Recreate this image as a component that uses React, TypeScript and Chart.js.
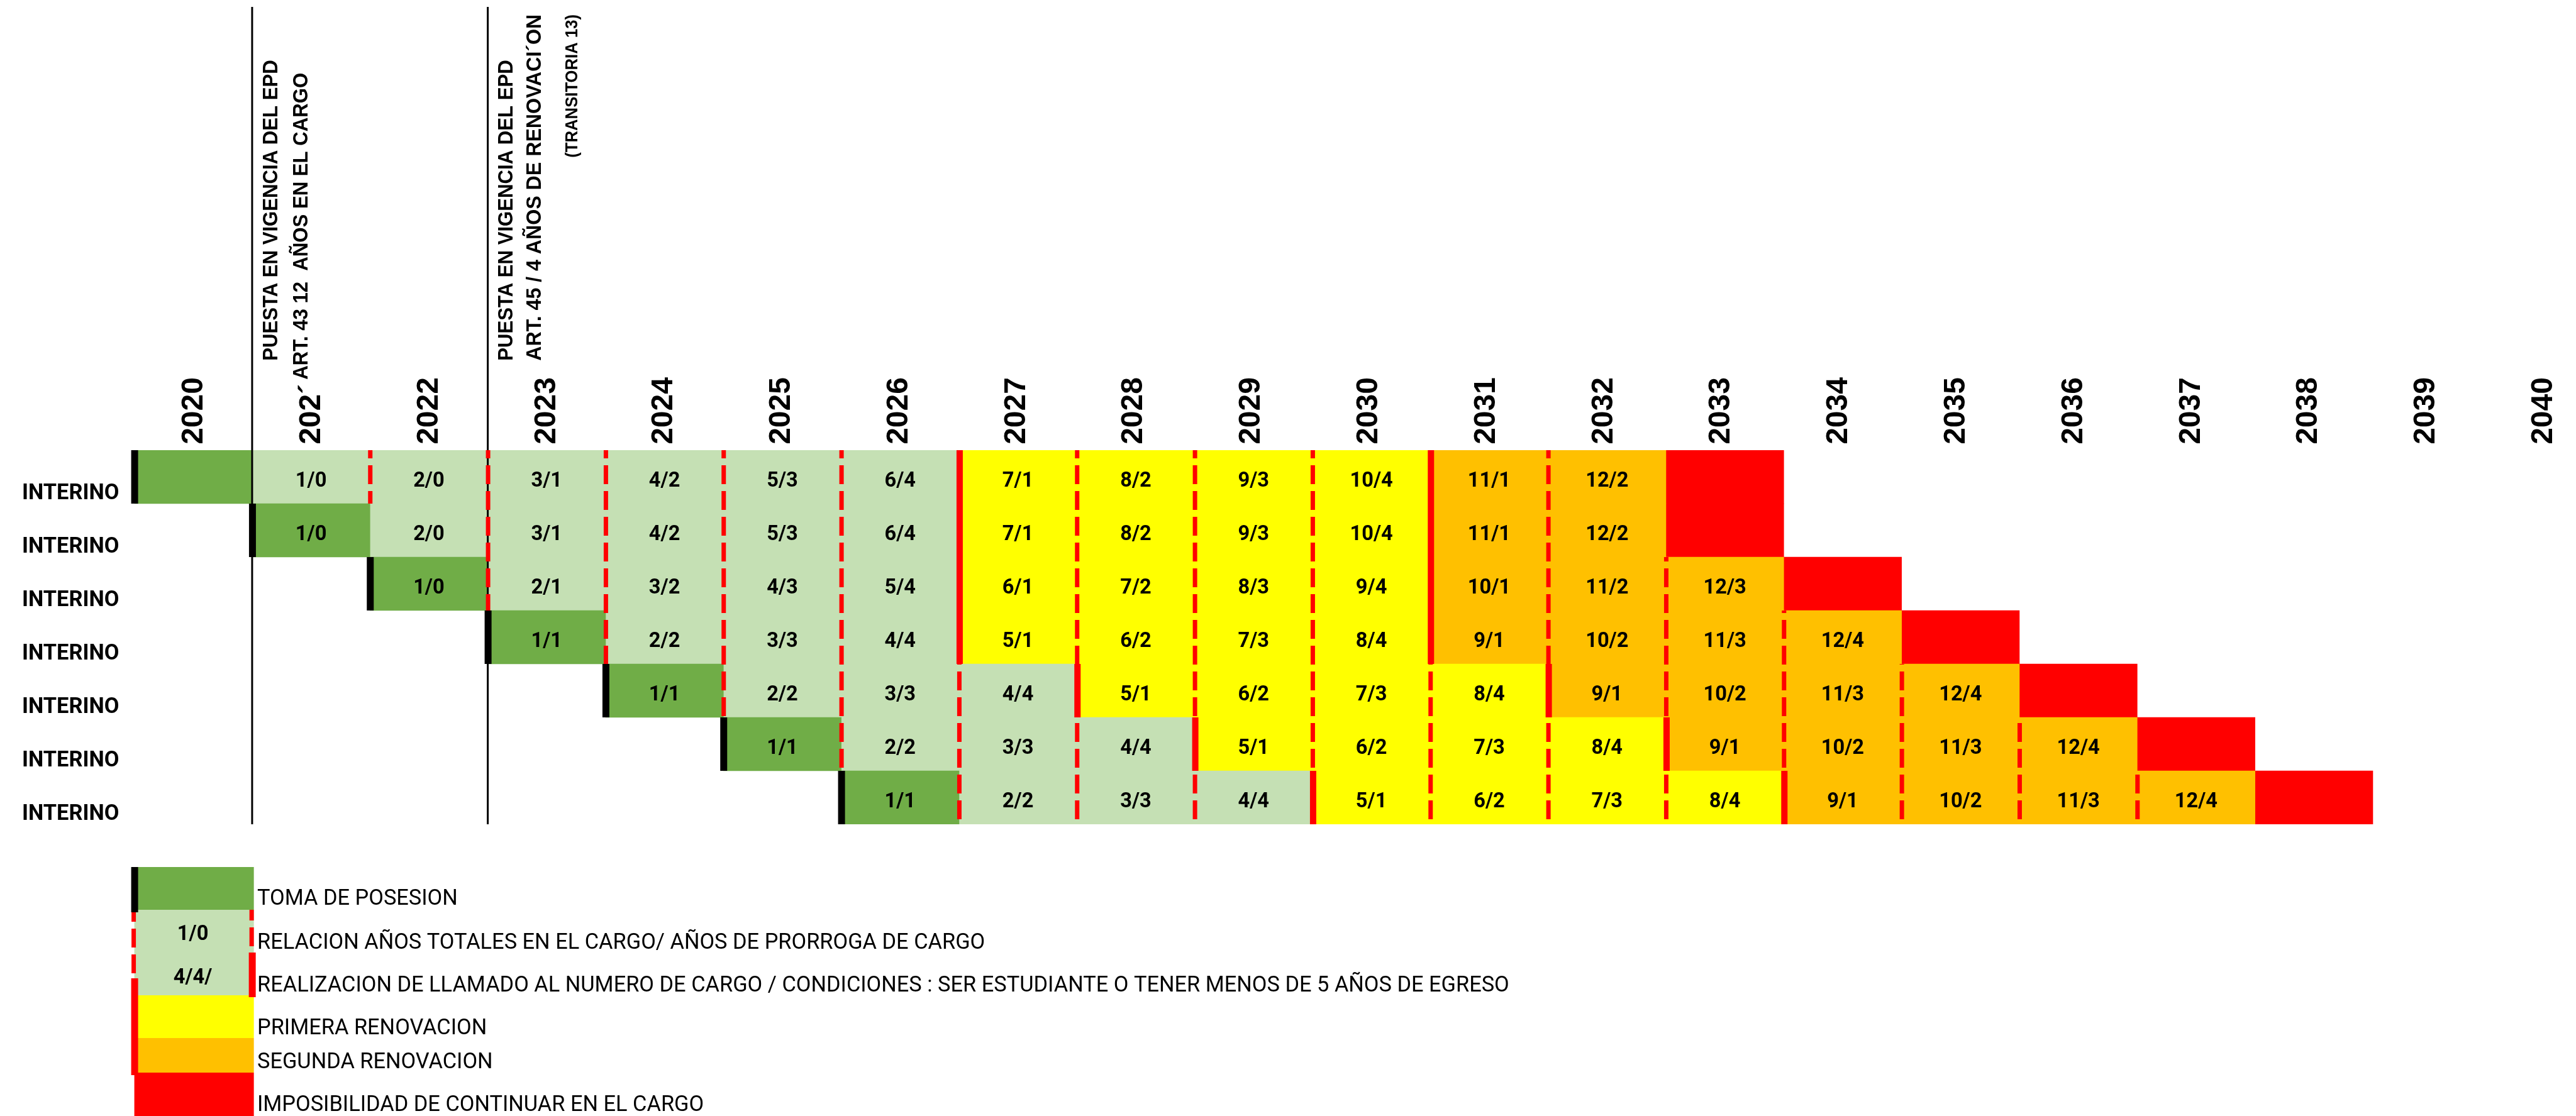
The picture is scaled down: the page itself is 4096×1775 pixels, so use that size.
import React, { useEffect, useRef } from "react";
import { Chart, registerables } from "chart.js";

Chart.register(...registerables);

// ---------------- DATA ----------------
const YEARS = [2020, 2021, 2022, 2023, 2024, 2025, 2026, 2027, 2028, 2029, 2030, 2031, 2032, 2033, 2034, 2035, 2036, 2037, 2038, 2039, 2040];
const YEAR_LABELS = ["2020", "202´", "2022", "2023", "2024", "2025", "2026", "2027", "2028", "2029", "2030", "2031", "2032", "2033", "2034", "2035", "2036", "2037", "2038", "2039", "2040"];

const ROW_LABELS = ["INTERINO", "INTERINO", "INTERINO", "INTERINO", "INTERINO", "INTERINO", "INTERINO"];
const ROW_START = [2020, 2021, 2022, 2023, 2024, 2025, 2026];
// D = toma de posesion, L = prorroga, Y = primera renovacion, O = segunda renovacion, R = imposibilidad
const ROW_KINDS = [
  "DLLLLLLYYYYOOR",
  "DLLLLLYYYYOOR",
  "DLLLLYYYYOOOR",
  "DLLLYYYYOOOOR",
  "DLLLYYYYOOOOR",
  "DLLLYYYYOOOOR",
  "DLLLYYYYOOOOR",
];
const ROW_TEXTS = [
  ["", "1/0", "2/0", "3/1", "4/2", "5/3", "6/4", "7/1", "8/2", "9/3", "10/4", "11/1", "12/2", ""],
  ["1/0", "2/0", "3/1", "4/2", "5/3", "6/4", "7/1", "8/2", "9/3", "10/4", "11/1", "12/2", ""],
  ["1/0", "2/1", "3/2", "4/3", "5/4", "6/1", "7/2", "8/3", "9/4", "10/1", "11/2", "12/3", ""],
  ["1/1", "2/2", "3/3", "4/4", "5/1", "6/2", "7/3", "8/4", "9/1", "10/2", "11/3", "12/4", ""],
  ["1/1", "2/2", "3/3", "4/4", "5/1", "6/2", "7/3", "8/4", "9/1", "10/2", "11/3", "12/4", ""],
  ["1/1", "2/2", "3/3", "4/4", "5/1", "6/2", "7/3", "8/4", "9/1", "10/2", "11/3", "12/4", ""],
  ["1/1", "2/2", "3/3", "4/4", "5/1", "6/2", "7/3", "8/4", "9/1", "10/2", "11/3", "12/4", ""],
];

const KIND_CODES = ["D", "L", "Y", "O", "R"];
const KIND_NAMES = ["TOMA DE POSESION", "PRORROGA", "PRIMERA RENOVACION", "SEGUNDA RENOVACION", "IMPOSIBILIDAD"];
const KIND_COLORS = ["#70AD47", "#C5E0B4", "#FFFF00", "#FFC000", "#FF0000"];

const EVENT_YEARS = [2021, 2023];
const ANNOT_1 = ["PUESTA EN VIGENCIA DEL EPD", "ART. 43 12  AÑOS EN EL CARGO"];
const ANNOT_2 = ["PUESTA EN VIGENCIA DEL EPD", "ART. 45 / 4 AÑOS DE RENOVACI´ON", "(TRANSITORIA 13)"];

const LEGEND_LABELS = [
  "TOMA DE POSESION",
  "RELACION AÑOS TOTALES EN EL CARGO/ AÑOS DE PRORROGA DE CARGO",
  "REALIZACION DE LLAMADO AL NUMERO DE CARGO / CONDICIONES : SER ESTUDIANTE O TENER MENOS DE 5 AÑOS DE EGRESO",
  "PRIMERA RENOVACION",
  "SEGUNDA RENOVACION",
  "IMPOSIBILIDAD DE CONTINUAR EN EL CARGO",
];
const LEGEND_KINDS = ["D", "L", "L", "Y", "O", "R"];
const LEGEND_SWATCH_TEXT = ["", "1/0", "4/4/", "", "", ""];

// ---------------- LAYOUT ----------------
const S = 0.905;
const W = 4096;
const H = 1775;
const PLOT_LEFT = 236 * S;
const TABLE_TOP = 716;
const ROW_PX = 85;
const TABLE_BOTTOM = TABLE_TOP + ROW_LABELS.length * ROW_PX;
const COL_PX = 207 * S;
const X_MAX = 2020 + (W - PLOT_LEFT) / COL_PX;

const RED = "#FF0000";
const CELL_FONT = 36 * S;
const ROW_FONT = 38 * S;
const YEAR_FONT = 53 * S;
const LEG_FONT = 38 * S;
const DASH = [30, 11];

// annotation line offsets (reference px) relative to event line: dx, yStart, fontsize, squeeze
const ANNOT_LAYOUT_1 = [
  [31, 634, 37, 0.93],
  [84, 667, 37, 0.93],
];
const ANNOT_LAYOUT_2 = [
  [30, 634, 37, 0.93],
  [80, 634, 37, 0.96],
  [146, 277, 30.5, 0.93],
];

// legend boundaries (scaled px)
const LEG_Y = [1379, 1447, 1515, 1583, 1651, 1706, 1775];
const LEG_TEXT_Y = [1427, 1497, 1565, 1633, 1687, 1755];

function colorOf(code: string) {
  return KIND_COLORS[KIND_CODES.indexOf(code)];
}

function rotText(ctx: CanvasRenderingContext2D, text: string, cx: number, yStart: number, size: number, family: string, weight: string, squeeze: number) {
  ctx.save();
  ctx.font = `${weight} ${size}px ${family}`;
  const cap = size * 0.716;
  ctx.translate(cx + cap / 2, yStart);
  ctx.rotate(-Math.PI / 2);
  ctx.scale(squeeze, 1);
  ctx.textAlign = "left";
  ctx.textBaseline = "alphabetic";
  ctx.fillStyle = "#000";
  ctx.fillText(text, 0, 0);
  ctx.restore();
}

function vDashed(ctx: CanvasRenderingContext2D, x: number, y0: number, y1: number, width: number, offset: number) {
  ctx.save();
  ctx.strokeStyle = RED;
  ctx.lineWidth = width;
  ctx.setLineDash(DASH);
  ctx.lineDashOffset = offset;
  ctx.beginPath();
  ctx.moveTo(x, y0);
  ctx.lineTo(x, y1);
  ctx.stroke();
  ctx.restore();
}

const drawPlugin = {
  id: "cargoDecor",
  afterDatasetsDraw(chart: any) {
    const ctx: CanvasRenderingContext2D = chart.ctx;
    const xs = chart.scales.x;
    const ys = chart.scales.y;
    const rowH = Math.abs(ys.getPixelForValue(1) - ys.getPixelForValue(0));
    const tableTop = ys.getPixelForValue(0) - rowH / 2;
    const tableBottom = ys.getPixelForValue(ROW_LABELS.length - 1) + rowH / 2;

    // event vertical lines
    ctx.save();
    ctx.fillStyle = "#000";
    EVENT_YEARS.forEach((yr) => {
      const x = xs.getPixelForValue(yr);
      ctx.fillRect(x - 1.5, 11, 3, tableBottom - 11);
    });
    ctx.restore();

    // cell borders
    ROW_KINDS.forEach((kinds, r) => {
      const cy = ys.getPixelForValue(r);
      const top = cy - rowH / 2;
      for (let i = 0; i < kinds.length; i++) {
        const yr = ROW_START[r] + i;
        const x0 = xs.getPixelForValue(yr);
        if (i === 0) {
          ctx.fillStyle = "#000";
          ctx.fillRect(x0 - 5, top, 11, rowH);
          continue;
        }
        const prev = kinds[i - 1];
        const cur = kinds[i];
        if (prev === "R" || cur === "R") continue;
        if ((prev === "L" && cur === "Y") || (prev === "Y" && cur === "O")) {
          ctx.fillStyle = RED;
          ctx.fillRect(x0 - 4, top, 10, rowH);
        } else if (prev === "D" && yr <= 2022) {
          // first rows: no dashed border after the first year
          continue;
        } else {
          vDashed(ctx, x0 + 0.5, top, top + rowH, 7, top - tableTop + 17);
        }
      }
    });

    // cell texts
    ctx.save();
    ctx.fillStyle = "#000";
    ctx.font = `bold ${CELL_FONT}px Roboto`;
    ctx.textAlign = "center";
    ctx.textBaseline = "alphabetic";
    ROW_TEXTS.forEach((texts, r) => {
      const cy = ys.getPixelForValue(r);
      texts.forEach((t, i) => {
        if (!t) return;
        const cx = xs.getPixelForValue(ROW_START[r] + i + 0.5);
        ctx.fillText(t, cx, cy + 4 + (CELL_FONT * 0.711) / 2);
      });
    });
    ctx.restore();

    // row labels
    ctx.save();
    ctx.fillStyle = "#000";
    ctx.font = `bold ${ROW_FONT}px Roboto`;
    ctx.textAlign = "left";
    ctx.textBaseline = "alphabetic";
    ROW_LABELS.forEach((lab, r) => {
      const cy = ys.getPixelForValue(r);
      ctx.fillText(lab, 35, cy + 23 + (ROW_FONT * 0.711) / 2);
    });
    ctx.restore();

    // year labels
    YEARS.forEach((yr, k) => {
      const cx = xs.getPixelForValue(yr + 0.5) - (2.5 + 0.6 * k) * S;
      rotText(ctx, YEAR_LABELS[k], cx, 781 * S, YEAR_FONT, '"Liberation Sans", Arial, sans-serif', "bold", 1);
    });

    // annotations
    const annots = [
      [ANNOT_1, ANNOT_LAYOUT_1],
      [ANNOT_2, ANNOT_LAYOUT_2],
    ] as const;
    annots.forEach(([lines, layout], a) => {
      const lx = xs.getPixelForValue(EVENT_YEARS[a]);
      lines.forEach((txt, j) => {
        const [dx, y0, fs, sq] = layout[j];
        rotText(ctx, txt, lx + dx * S, y0 * S, fs * S, '"Liberation Sans", Arial, sans-serif', "bold", sq);
      });
    });

    // legend
    const lx0 = xs.getPixelForValue(2020);
    const lx1 = xs.getPixelForValue(2021) + 3 * S;
    LEGEND_KINDS.forEach((code, i) => {
      ctx.fillStyle = colorOf(code);
      ctx.fillRect(lx0, LEG_Y[i], lx1 - lx0, LEG_Y[i + 1] - LEG_Y[i]);
    });
    // legend borders
    ctx.fillStyle = "#000";
    ctx.fillRect(lx0 - 5, LEG_Y[0], 11, LEG_Y[1] - LEG_Y[0] + 4);
    vDashed(ctx, lx0 - 1, LEG_Y[1] + 4, 1556, 7, 15);
    ctx.fillStyle = RED;
    ctx.fillRect(lx0 - 5, 1556, 11, 1710 - 1556);
    vDashed(ctx, lx1 - 3.5, LEG_Y[1], LEG_Y[2], 7, 13);
    ctx.fillStyle = RED;
    ctx.fillRect(lx1 - 8, LEG_Y[2], 11, 1586 - LEG_Y[2]);

    ctx.save();
    ctx.fillStyle = "#000";
    ctx.font = `bold ${CELL_FONT}px Roboto`;
    ctx.textAlign = "center";
    LEGEND_SWATCH_TEXT.forEach((t, i) => {
      if (!t) return;
      const cyy = i === 1 ? 1483 : 1552;
      ctx.fillText(t, (lx0 + lx1) / 2 - 2, cyy + (CELL_FONT * 0.711) / 2);
    });
    ctx.font = `${LEG_FONT}px Roboto`;
    ctx.textAlign = "left";
    LEGEND_LABELS.forEach((t, i) => {
      ctx.fillText(t, 409, LEG_TEXT_Y[i] + (LEG_FONT * 0.711) / 2);
    });
    ctx.restore();
  },
};

export default function App() {
  const ref = useRef<HTMLCanvasElement | null>(null);

  useEffect(() => {
    document.body.style.margin = "0";
    const canvas = ref.current;
    if (!canvas) return;

    const datasets = KIND_CODES.map((code, k) => ({
      label: KIND_NAMES[k],
      backgroundColor: KIND_COLORS[k],
      borderWidth: 0,
      borderSkipped: false,
      grouped: false,
      barPercentage: 1,
      categoryPercentage: 1,
      data: ROW_KINDS.map((kinds, r) => {
        const first = kinds.indexOf(code);
        const last = kinds.lastIndexOf(code);
        return first < 0 ? null : [ROW_START[r] + first, ROW_START[r] + last + 1];
      }),
    }));

    const chart = new Chart(canvas, {
      type: "bar",
      data: { labels: ROW_LABELS, datasets: datasets as any },
      options: {
        indexAxis: "y",
        animation: false,
        responsive: false,
        devicePixelRatio: 1,
        layout: { padding: { left: PLOT_LEFT, right: 0, top: TABLE_TOP, bottom: H - TABLE_BOTTOM } },
        scales: {
          x: { type: "linear", min: 2020, max: X_MAX, display: false },
          y: { type: "category", offset: true, display: false },
        },
        plugins: { legend: { display: false }, tooltip: { enabled: false } },
      } as any,
      plugins: [drawPlugin],
    });
    return () => chart.destroy();
  }, []);

  return (
    <div style={{ width: W, height: H, background: "#fff" }}>
      <canvas ref={ref} width={W} height={H} style={{ display: "block", width: W, height: H }} />
    </div>
  );
}
